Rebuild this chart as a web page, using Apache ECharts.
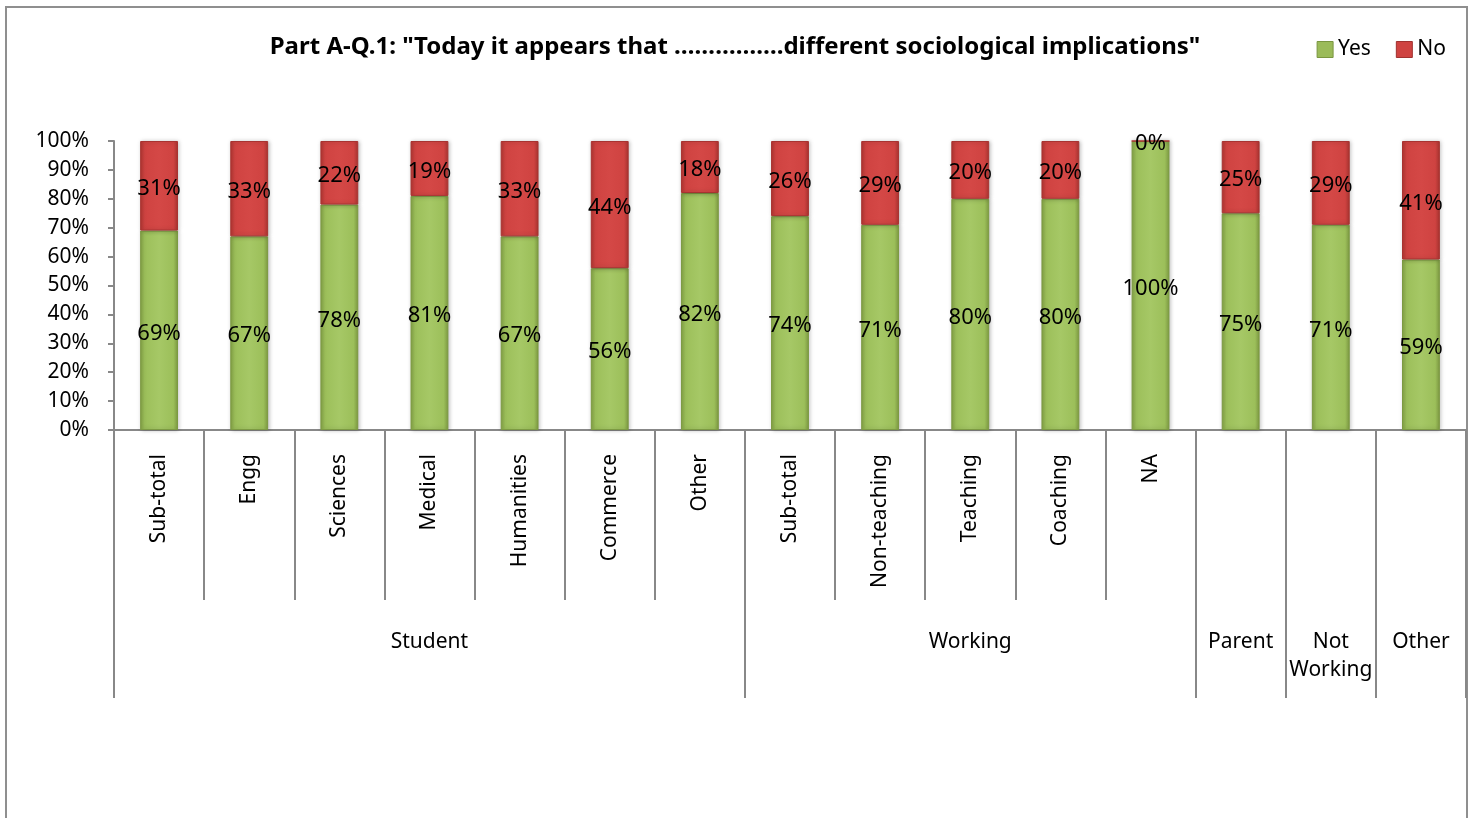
<!DOCTYPE html>
<html>
<head>
<meta charset="utf-8">
<script src="https://cdn.jsdelivr.net/npm/echarts@6/dist/echarts.min.js"></script>
<style>
html,body{margin:0;padding:0;background:#fff;}
#frame{position:absolute;left:5px;top:6px;width:1459px;height:840px;border:2px solid #8f8f8f;box-sizing:content-box;}
#chart{position:absolute;left:0;top:0;width:1473px;height:818px;}
</style>
</head>
<body>
<div id="frame"></div>
<div id="chart"></div>
<script>
const titleText = 'Part A-Q.1: "Today it appears that \u2026\u2026\u2026\u2026\u2026.different sociological implications"';
const categories = ['Sub-total','Engg','Sciences','Medical','Humanities','Commerce','Other',
                    'Sub-total','Non-teaching','Teaching','Coaching','NA',
                    '','',''];
const groupNames = ['Student','Working','Parent','Not\nWorking','Other'];
const groupSpans = [7,5,1,1,1];
const yesValues = [69,67,78,81,67,56,82,74,71,80,80,100,75,71,59];
const noValues  = [31,33,22,19,33,44,18,26,29,20,20,0,25,29,41];
const yTicks = [0,10,20,30,40,50,60,70,80,90,100];

// build group label row and boundary indices
const groupLabels = categories.map(() => '');
const groupStarts = [];
let s = 0;
groupNames.forEach((g, i) => {
  groupStarts.push(s);
  groupLabels[s + Math.floor(groupSpans[i] / 2)] = g;
  s += groupSpans[i];
});

const FONT = 'Noto Sans';
const axisColor = '#888888';

const greenFill = new echarts.graphic.LinearGradient(0, 0, 1, 0, [
  {offset: 0, color: '#84a346'},
  {offset: 0.12, color: '#9cbf5a'},
  {offset: 0.5, color: '#a6c866'},
  {offset: 0.88, color: '#9cbf5a'},
  {offset: 1, color: '#7f9c43'}
]);
const redFill = new echarts.graphic.LinearGradient(0, 0, 1, 0, [
  {offset: 0, color: '#b23632'},
  {offset: 0.12, color: '#cf4341'},
  {offset: 0.5, color: '#d44846'},
  {offset: 0.88, color: '#cf4341'},
  {offset: 1, color: '#ab3431'}
]);

const chart = echarts.init(document.getElementById('chart'), null, {renderer: 'canvas'});
chart.setOption({
  animation: false,
  backgroundColor: 'transparent',
  textStyle: {fontFamily: FONT},
  title: {
    text: titleText,
    left: 730, top: 30, textAlign: 'center',
    textStyle: {fontFamily: FONT, fontWeight: 'bold', fontSize: 24, color: '#000'}
  },
  legend: {
    right: 22, top: 34,
    itemWidth: 16, itemHeight: 16, itemGap: 25,
    icon: 'rect',
    textStyle: {fontFamily: FONT, fontSize: 21, color: '#000'},
    data: [{name: 'Yes', itemStyle: {color: '#9bbb59', borderColor: '#7a9640', borderWidth: 1}},
           {name: 'No', itemStyle: {color: '#cf4341', borderColor: '#a03230', borderWidth: 1}}]
  },
  grid: {left: 114, right: 7, top: 141, bottom: 388, containLabel: false},
  xAxis: [
    {
      type: 'category', data: categories, position: 'bottom',
      axisLine: {show: true, lineStyle: {color: axisColor, width: 2}},
      axisTick: {show: true, interval: 0, length: 170, lineStyle: {color: axisColor, width: 2}},
      axisLabel: {interval: 0, rotate: 90, margin: 24, fontFamily: FONT, fontSize: 21, color: '#000'}
    },
    {
      type: 'category', data: groupLabels, position: 'bottom',
      axisLine: {show: false},
      axisTick: {show: true, length: 268, lineStyle: {color: axisColor, width: 2},
                 interval: function (idx) { return groupStarts.indexOf(idx) >= 0; }},
      axisLabel: {interval: 0, margin: 198, fontFamily: FONT, fontSize: 21, color: '#000', lineHeight: 28}
    }
  ],
  yAxis: {
    type: 'value', min: 0, max: 100, interval: 10,
    axisLine: {show: true, lineStyle: {color: axisColor, width: 2}},
    axisTick: {show: true, length: 6, lineStyle: {color: axisColor, width: 2}},
    splitLine: {show: false},
    axisLabel: {margin: 25, fontFamily: FONT, fontSize: 21, color: '#000',
                formatter: function (v) { return v + '%'; }}
  },
  series: [
    {
      name: 'Yes', type: 'bar', stack: 'total', barWidth: '42%',
      data: yesValues,
      itemStyle: {color: greenFill, borderColor: '#7c9a42', borderWidth: 1,
                  shadowColor: 'rgba(0,0,0,0.25)', shadowBlur: 4, shadowOffsetX: 1},
      label: {show: true, position: 'inside', fontFamily: FONT, fontSize: 22, color: '#000',
              offset: [0, 3],
              formatter: function (p) { return p.value + '%'; }}
    },
    {
      name: 'No', type: 'bar', stack: 'total', barWidth: '42%',
      data: noValues,
      itemStyle: {color: redFill, borderColor: '#a83331', borderWidth: 1,
                  shadowColor: 'rgba(0,0,0,0.25)', shadowBlur: 4, shadowOffsetX: 1},
      label: {show: true, position: 'inside', fontFamily: FONT, fontSize: 22, color: '#000',
              offset: [0, 3],
              formatter: function (p) { return p.value + '%'; }}
    }
  ]
});
</script>
</body>
</html>
